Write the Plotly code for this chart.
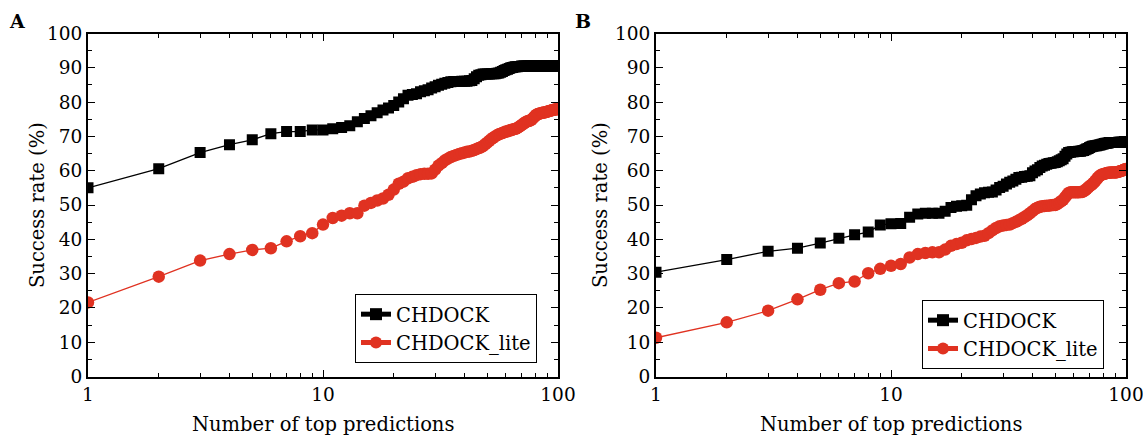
import plotly.graph_objects as go

N = list(range(1, 101))

a_chdock = [55.0, 60.6, 65.3, 67.6, 69.0, 70.8, 71.4, 71.4, 71.9, 71.9,
            72.2, 72.6, 73.1, 74.3, 75.2, 76.0, 76.9, 77.7, 78.3, 79.0,
            80.0, 81.0, 82.0, 82.2, 82.4, 83.0, 83.3, 83.6, 84.1, 84.5,
            84.9, 85.2, 85.5, 85.7, 85.9, 86.0, 86.0, 86.0, 86.1, 86.1,
            86.1, 86.2, 86.3, 86.8, 87.4, 87.8, 88.0, 88.2, 88.2, 88.2,
            88.2, 88.3, 88.3, 88.3, 88.4, 88.5, 88.7, 88.9, 89.2, 89.4,
            89.6, 89.8, 90.0, 90.1, 90.2, 90.3, 90.3, 90.4, 90.4, 90.5,
            90.5, 90.5, 90.5, 90.5, 90.5, 90.5, 90.5, 90.5, 90.5, 90.5,
            90.5, 90.5, 90.5, 90.5, 90.5, 90.5, 90.5, 90.5, 90.5, 90.5,
            90.5, 90.5, 90.5, 90.5, 90.5, 90.5, 90.5, 90.5, 90.5, 90.6]

a_lite = [21.6, 29.1, 33.8, 35.7, 36.9, 37.4, 39.4, 40.9, 41.8, 44.3,
          46.2, 46.9, 47.6, 47.6, 49.8, 50.6, 51.3, 51.9, 53.0, 54.5,
          56.2, 56.8, 57.8, 58.2, 58.7, 59.0, 59.1, 59.1, 59.2, 60.3,
          61.5, 62.2, 63.0, 63.5, 64.0, 64.3, 64.6, 64.9, 65.1, 65.3,
          65.5, 65.6, 65.8, 66.0, 66.3, 66.6, 66.8, 67.2, 67.7, 68.2,
          68.7, 69.2, 69.6, 70.0, 70.3, 70.6, 70.8, 71.0, 71.2, 71.4,
          71.5, 71.7, 71.8, 72.0, 72.1, 72.2, 72.4, 72.7, 73.0, 73.3,
          73.6, 73.9, 74.2, 74.4, 74.5, 74.6, 74.8, 75.2, 75.6, 76.0,
          76.3, 76.5, 76.6, 76.7, 76.8, 76.9, 77.0, 77.0, 77.1, 77.2,
          77.3, 77.4, 77.5, 77.6, 77.7, 77.8, 77.8, 77.9, 78.0, 78.0]

b_chdock = [30.4, 34.1, 36.5, 37.4, 38.9, 40.3, 41.3, 42.1, 44.2, 44.5,
            44.6, 46.4, 47.4, 47.6, 47.6, 47.6, 48.2, 49.3, 49.6, 49.8,
            49.9, 51.5, 52.7, 53.2, 53.6, 53.7, 53.8, 54.4, 55.1, 55.5,
            56.1, 56.6, 57.0, 57.5, 58.0, 58.1, 58.3, 58.4, 58.5, 59.4,
            59.9, 60.3, 60.9, 61.4, 61.6, 61.9, 62.1, 62.2, 62.3, 62.4,
            62.6, 62.9, 63.2, 63.5, 64.2, 64.9, 65.3, 65.4, 65.5, 65.5,
            65.6, 65.6, 65.7, 65.7, 65.8, 65.9, 66.1, 66.3, 66.5, 66.8,
            67.0, 67.1, 67.2, 67.3, 67.3, 67.4, 67.5, 67.6, 67.7, 67.8,
            67.9, 68.0, 68.0, 68.1, 68.2, 68.2, 68.2, 68.2, 68.2, 68.2,
            68.2, 68.2, 68.3, 68.3, 68.3, 68.3, 68.3, 68.3, 68.3, 68.3]

b_lite = [11.3, 15.8, 19.2, 22.5, 25.3, 27.2, 27.7, 30.1, 31.4, 32.3,
          32.8, 34.7, 35.7, 36.0, 36.2, 36.2, 37.0, 38.1, 38.6, 39.0,
          39.7, 40.1, 40.4, 40.8, 41.0, 41.8, 42.6, 43.3, 43.8, 44.0,
          44.2, 44.3, 44.7, 45.1, 45.5, 46.0, 46.5, 47.0, 47.6, 48.2,
          48.8, 49.2, 49.5, 49.6, 49.7, 49.8, 49.8, 49.9, 50.0, 50.0,
          50.3, 50.7, 51.1, 51.5, 52.2, 52.9, 53.5, 53.7, 53.7, 53.7,
          53.7, 53.7, 53.7, 53.8, 53.8, 54.0, 54.3, 54.7, 55.1, 55.5,
          55.8, 56.1, 56.5, 57.0, 57.5, 58.0, 58.4, 58.7, 58.9, 59.0,
          59.1, 59.2, 59.3, 59.4, 59.4, 59.5, 59.5, 59.5, 59.5, 59.5,
          59.5, 59.6, 59.7, 59.8, 59.9, 60.0, 60.1, 60.3, 60.4, 60.5]

y_ticks = [0, 10, 20, 30, 40, 50, 60, 70, 80, 90, 100]
x_ticks = [1, 10, 100]
x_ticklabels = ["1", "10", "100"]
panel_labels = ["A", "B"]
series_names = ["CHDOCK", "CHDOCK_lite"]

FONT = "DejaVu Serif"
BLACK = "#000000"
RED = "#e03221"

OFF = 0  # body margin removed via post_script
W, H = 1143, 437
fig = go.Figure()

panels = [
    (a_chdock, a_lite, "x", "y", "legend"),
    (b_chdock, b_lite, "x2", "y2", "legend2"),
]
for ch, li, xa, ya, lg in panels:
    fig.add_trace(go.Scatter(x=N, y=ch, xaxis=xa, yaxis=ya, name=series_names[0],
                             mode="lines+markers", legend=lg,
                             line=dict(color=BLACK, width=1.3),
                             marker=dict(symbol="square", size=11, color=BLACK)))
    fig.add_trace(go.Scatter(x=N, y=li, xaxis=xa, yaxis=ya, name=series_names[1],
                             mode="lines+markers", legend=lg,
                             line=dict(color=RED, width=1.3),
                             marker=dict(symbol="circle", size=12.5, color=RED)))

def px_x(p):
    return (p - OFF) / W

def px_y(p):
    return 1 - (p - OFF) / H

xdoms = [(px_x(88), px_x(558)), (px_x(656), px_x(1126))]
ydom = (px_y(376.5), px_y(33.5))

axis_common = dict(showline=True, linecolor=BLACK, linewidth=2, mirror="ticks",
                   ticks="inside", ticklen=7, tickwidth=1.3, tickcolor=BLACK,
                   showgrid=False, zeroline=False, automargin=False,
                   ticklabeloverflow="allow",
                   tickfont=dict(family=FONT, size=18.5, color=BLACK))

for i, (xd) in enumerate(xdoms):
    sfx = "" if i == 0 else str(i + 1)
    fig.update_layout(**{
        "xaxis" + sfx: dict(axis_common, domain=list(xd), type="log", range=[0, 2],
                            tickvals=x_ticks, ticktext=x_ticklabels,
                            anchor="y" + sfx, ticklabelstandoff=0,
                            minor=dict(ticks="inside", ticklen=4, tickwidth=1.1,
                                       tickcolor=BLACK, dtick="D1", showgrid=False)),
        "yaxis" + sfx: dict(axis_common, domain=list(ydom), range=[0, 100],
                            tickvals=y_ticks, anchor="x" + sfx,
                            minor=dict(ticks="inside", ticklen=4, tickwidth=1.1,
                                       tickcolor=BLACK, dtick=5, showgrid=False)),
    })

legend_common = dict(font=dict(family=FONT, size=19.5, color=BLACK),
                     bordercolor=BLACK, borderwidth=1, bgcolor="white",
                     xanchor="left", yanchor="top", tracegroupgap=0,
                     itemsizing="constant")
fig.update_layout(
    legend=dict(legend_common, x=px_x(355), y=px_y(294)),
    legend2=dict(legend_common, x=px_x(922), y=px_y(300)),
)

annotations = []
for i, (xd) in enumerate(xdoms):
    cx = (xd[0] + xd[1]) / 2
    annotations.append(dict(text="Number of top predictions", x=cx, y=px_y(424),
                            xref="paper", yref="paper", showarrow=False,
                            xanchor="center", yanchor="middle",
                            font=dict(family=FONT, size=19.5, color=BLACK)))
    annotations.append(dict(text="Success rate (%)", x=px_x(38 if i == 0 else 601),
                            y=(ydom[0] + ydom[1]) / 2, xref="paper", yref="paper",
                            showarrow=False, textangle=-90, xanchor="center",
                            yanchor="middle",
                            font=dict(family=FONT, size=19.5, color=BLACK)))
    annotations.append(dict(text="<b>%s</b>" % panel_labels[i],
                            x=px_x(7 if i == 0 else 573), y=px_y(21),
                            xref="paper", yref="paper", showarrow=False,
                            xanchor="left", yanchor="middle",
                            font=dict(family=FONT, size=19, color=BLACK)))

fig.update_layout(annotations=annotations, width=W, height=H,
                  margin=dict(l=0, r=0, t=0, b=0, autoexpand=False),
                  paper_bgcolor="white", plot_bgcolor="white",
                  showlegend=True)

fig.write_html("out.html",
               config={"displayModeBar": False},
               post_script="document.body.style.margin='0';"
                           "document.body.style.overflow='hidden';")
